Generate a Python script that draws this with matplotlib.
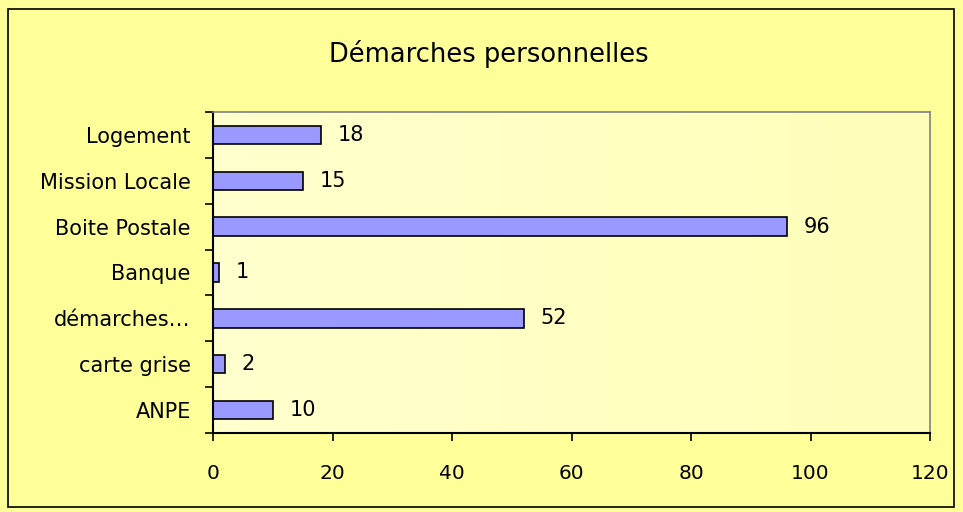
import matplotlib.pyplot as plt
from matplotlib.patches import Rectangle
from matplotlib.colors import LinearSegmentedColormap
import numpy as np

# data, bottom to top as drawn
CATEGORIES = ['ANPE', 'carte grise', 'démarches…', 'Banque', 'Boite Postale',
              'Mission Locale', 'Logement']
VALUES = [10, 2, 52, 1, 96, 15, 18]
XTICKS = [0, 20, 40, 60, 80, 100, 120]
TITLE = 'Démarches personnelles'

plt.rcParams['font.family'] = ['DejaVu Sans']

FIG = plt.figure(figsize=(9.63, 5.12), dpi=100)
FIG.patch.set_facecolor('#FFFF99')
FIG.patches.append(Rectangle((8 / 963, 5 / 512), 946 / 963, 498 / 512,
                             transform=FIG.transFigure, fill=False,
                             edgecolor='black', linewidth=1.2))

AX = FIG.add_axes([213 / 963, 1 - 433 / 512, 717 / 963, 321 / 512])
AX.set_facecolor('#FFFFCC')

# faint left-to-right gradient of the plot area
GRAD = LinearSegmentedColormap.from_list('g', ['#FFFFCE', '#FFFFBA'])
AX.imshow(np.linspace(0, 1, 256).reshape(1, -1), cmap=GRAD, aspect='auto',
          extent=(0, 1, 0, 1), transform=AX.transAxes, zorder=0)

POS = np.arange(len(CATEGORIES))
AX.barh(POS, VALUES, height=0.4, color='#9999FF', edgecolor='black',
        linewidth=1.2, zorder=2)
for p, v in zip(POS, VALUES):
    AX.annotate(str(v), (v, p), xytext=(12, 0), textcoords='offset points',
                va='center', ha='left', fontsize=15)

AX.set_xlim(0, 120)
AX.set_ylim(-0.5, len(CATEGORIES) - 0.5)
AX.set_xticks(XTICKS)
AX.set_xticklabels([str(t) for t in XTICKS])
AX.set_yticks(POS)
AX.set_yticklabels(CATEGORIES)
AX.set_yticks(np.arange(-0.5, len(CATEGORIES)), minor=True)
AX.tick_params(axis='y', which='major', length=0, pad=16, labelsize=15)
AX.tick_params(axis='y', which='minor', length=6, width=1.2, direction='out')
AX.tick_params(axis='x', length=6, width=1.2, direction='out', pad=16, labelsize=14.5)

for side in ['left', 'bottom']:
    AX.spines[side].set_linewidth(1.5)
    AX.spines[side].set_color('black')
for side in ['top', 'right']:
    AX.spines[side].set_linewidth(1.2)
    AX.spines[side].set_color('#808080')

FIG.text(489 / 963, 1 - 54 / 512, TITLE, ha='center', va='center', fontsize=18.5)

plt.savefig('out.png', dpi=100, facecolor=FIG.get_facecolor())
